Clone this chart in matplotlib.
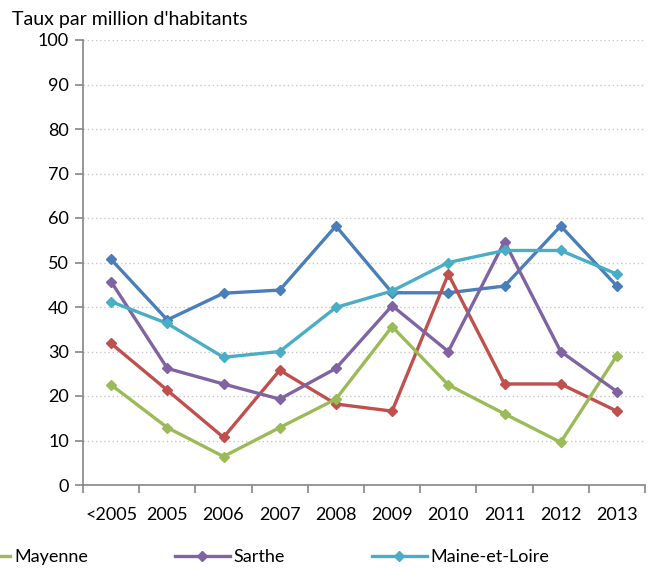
import matplotlib.pyplot as plt
from matplotlib.lines import Line2D
from matplotlib.ticker import FixedLocator, MultipleLocator

plt.rcParams['font.family'] = ['Lato', 'DejaVu Sans']

years = ['<2005', '2005', '2006', '2007', '2008', '2009', '2010', '2011', '2012', '2013']

loire_atlantique = [50.7, 37.1, 43.1, 43.8, 58.2, 43.2, 43.2, 44.7, 58.2, 44.7]
vendee = [31.8, 21.3, 10.7, 25.8, 18.2, 16.6, 47.4, 22.7, 22.7, 16.6]
mayenne = [22.5, 12.9, 6.4, 12.9, 19.3, 35.6, 22.5, 16.0, 9.6, 29.1]
sarthe = [45.7, 26.2, 22.7, 19.3, 26.2, 40.3, 30.0, 54.7, 30.0, 21.0]
maine_et_loire = [41.2, 36.3, 28.7, 30.0, 39.9, 43.6, 50.0, 52.7, 52.7, 47.4]

series = [
    ('Loire-Atlantique', loire_atlantique, '#4A7EBB'),
    ('Vendée', vendee, '#C0504D'),
    ('Mayenne', mayenne, '#9BBB59'),
    ('Sarthe', sarthe, '#8064A2'),
    ('Maine-et-Loire', maine_et_loire, '#4BACC6'),
]

fig = plt.figure(figsize=(6.54, 5.68), dpi=100)
ax = fig.add_axes([83 / 654, 83 / 568, (645 - 83) / 654, (485 - 40) / 568])

x = list(range(len(years)))
handles = {}
for name, vals, col in series:
    ln, = ax.plot(x, vals, color=col, lw=2.4, marker='D', ms=5.5,
                  markeredgecolor=col, markerfacecolor=col, label=name)
    handles[name] = ln

ax.set_xlim(-0.5, len(years) - 0.5)
ax.set_ylim(0, 100)
ax.yaxis.set_major_locator(MultipleLocator(10))
ax.grid(axis='y', linestyle=(0, (1, 2)), color='#c8c8c8', lw=1)
ax.set_axisbelow(True)

ax.xaxis.set_major_locator(FixedLocator([i - 0.5 for i in range(len(years) + 1)]))
ax.xaxis.set_minor_locator(FixedLocator(x))
ax.set_xticklabels([])
ax.set_xticklabels(years, minor=True)
ax.tick_params(axis='x', which='major', length=6, width=1.2, color='#868686', direction='out')
ax.tick_params(axis='x', which='minor', length=0, pad=16, labelsize=13)
ax.tick_params(axis='y', length=6, width=1.2, color='#868686', direction='out', pad=4, labelsize=13)

for s in ['top', 'right']:
    ax.spines[s].set_visible(False)
for s in ['left', 'bottom']:
    ax.spines[s].set_color('#868686')
    ax.spines[s].set_linewidth(1.2)

fig.text(12 / 654, 1 - 19 / 568, "Taux par million d'habitants", fontsize=14, va='center', ha='left')

leg_names = ['Mayenne', 'Sarthe', 'Maine-et-Loire']
leg_handles = [Line2D([], [], color=handles[n].get_color(), lw=2.4, marker='D', ms=5.5)
               for n in leg_names]
fig.legend(leg_handles, leg_names, loc='center left', bbox_to_anchor=(-45 / 654, 11 / 568),
           ncol=3, frameon=False, fontsize=13, handlelength=3.05, handletextpad=0.22,
           columnspacing=4.8, borderpad=0, borderaxespad=0, markerscale=1)

fig.savefig('out.png', dpi=100)
